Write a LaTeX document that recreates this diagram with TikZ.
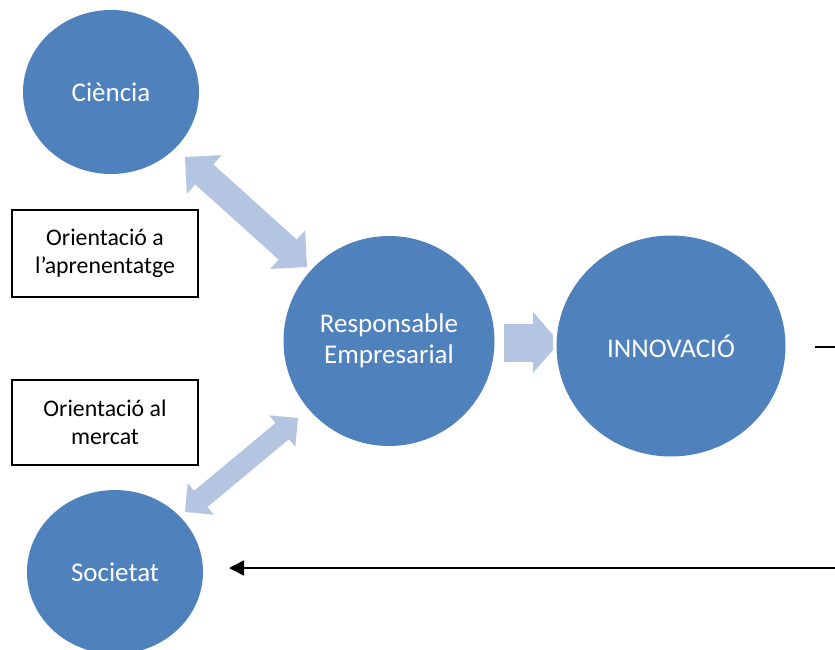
\documentclass[tikz,border=0pt]{standalone}
\usepackage{fontspec}
\setmainfont{Carlito}
\usetikzlibrary{shapes.geometric,arrows.meta,calc}
\definecolor{circblue}{RGB}{79,129,189}
\definecolor{lightarrow}{RGB}{180,197,225}
\newcommand\biarrow[5]{% #1 start, #2 end, #3 head length, #4 head half width, #5 shaft half width
  \fill[lightarrow] (#1)
    -- ($(#1)!#3!(#2)!#4!90:(#2)$)
    -- ($(#1)!#3!(#2)!#5!90:(#2)$)
    -- ($(#2)!#3!(#1)!#5!-90:(#1)$)
    -- ($(#2)!#3!(#1)!#4!-90:(#1)$)
    -- (#2)
    -- ($(#2)!#3!(#1)!#4!90:(#1)$)
    -- ($(#2)!#3!(#1)!#5!90:(#1)$)
    -- ($(#1)!#3!(#2)!#5!-90:(#2)$)
    -- ($(#1)!#3!(#2)!#4!-90:(#2)$)
    -- cycle;}
\begin{document}
\begin{tikzpicture}[x=1pt,y=-1pt,
  bubble/.style={ellipse, fill=circblue, text=white, inner sep=0pt, align=center,
    font=\fontsize{27}{31}\selectfont},
  labelbox/.style={draw=black, line width=1.2pt, minimum width=186pt, inner sep=0pt,
    align=center, font=\fontsize{23.8}{28}\selectfont},
  connline/.style={draw=black, line width=1.6pt}]
\useasboundingbox (0,0) rectangle (835,650);
\clip (0,0) rectangle (835,650);
\fill[white] (0,0) rectangle (835,650);

% circles
\node[bubble, minimum width=176pt, minimum height=164pt] (cien) at (111,92) {Ciència};
\node[bubble, minimum width=211pt, minimum height=210pt] (resp) at (389,341) {Responsable\\Empresarial};
\node[bubble, minimum width=229pt, minimum height=221pt] (innov) at (671,346) {INNOVACIÓ};
\node[bubble, minimum width=176pt, minimum height=164pt] (soc) at (115,572) {Societat};

% boxes
\node[labelbox, minimum height=87pt] (box1) at (105,253.5) {Orientació a\\l’aprenentatge};
\node[labelbox, minimum height=85pt] (box2) at (105,422.5) {Orientació al\\mercat};

% double arrows
\coordinate (ua) at (185,157);
\coordinate (ub) at (307,267);
\biarrow{ua}{ub}{26pt}{26pt}{13.5pt}
\coordinate (la) at (185,512);
\coordinate (lb) at (298,418);
\biarrow{la}{lb}{20.5pt}{20.5pt}{10.5pt}

% block arrow to innovation
\fill[lightarrow] (504,324) -- (533,324) -- (533,312) -- (553,335) -- (553,350)
  -- (533,373) -- (533,362) -- (504,362) -- cycle;

% feedback lines
\coordinate (r1) at (815,347);
\coordinate (r2) at (835,347);
\draw[connline] (r1) -- (r2);
\coordinate (f1) at (835,568);
\coordinate (f2) at (229,568);
\draw[connline, -{Triangle[length=15pt,width=15pt]}] (f1) -- (f2);
\end{tikzpicture}
\end{document}
